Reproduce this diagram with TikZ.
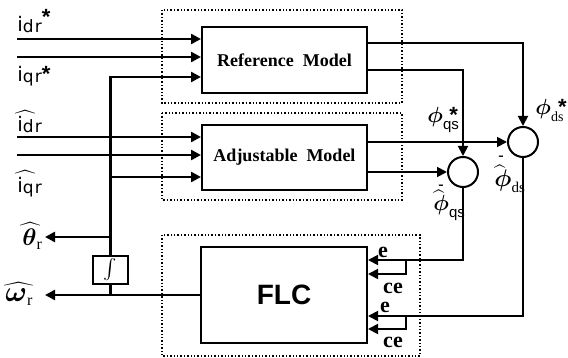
\documentclass[tikz,border=0pt]{standalone}
\usepackage{fontspec}
\setmainfont{Liberation Serif}
\setsansfont{Liberation Sans}
\newfontfamily\lblsf{DejaVu Sans}
\newfontfamily\lblsfw{DejaVu Sans}[LetterSpace=6]
\usepackage{amsmath}
\usepackage{bm}
\usetikzlibrary{calc, arrows.meta, positioning}

% hat laid over a label: shift, height of the base, width of the base
\newcommand{\hatover}[3]{\makebox[0pt][l]{\hspace{#1}\fontsize{10}{10}\selectfont$\widehat{\vphantom{\rule{0pt}{#2}}\hspace{#3}}$}}
\newcommand{\bstar}{{\fontsize{11}{11}\selectfont\sffamily\bfseries *}}
\newcommand{\ilab}[1]{{\fontsize{10}{10}\selectfont\lblsf i}\raisebox{-0.5pt}{\fontsize{8.5}{9}\selectfont\lblsfw #1}}
\newcommand{\ihat}[1]{\hatover{-1pt}{7.4pt}{10.5pt}\ilab{#1}}
\newcommand{\flx}[2]{$\bm\phi$\rlap{\raisebox{-3.2pt}{\fontsize{7.5}{8}\selectfont #1}}#2}
\newcommand{\mdlfont}{\fontsize{9}{10}\selectfont\bfseries}
\newcommand{\flcfont}{\fontsize{14}{15}\selectfont\sffamily\bfseries}
\newcommand{\errfont}{\fontsize{11}{11}\selectfont\bfseries}

\begin{document}
\begin{tikzpicture}[x=0.5pt,y=-0.5pt,
  >={Triangle[length=5pt,width=5pt]},
  blk/.style={draw,line width=1pt,inner sep=0pt},
  frm/.style={densely dotted,line width=0.7pt},
  sig/.style={->,line width=1.2pt},
  flow/.style={->,line width=0.9pt},
  wire/.style={line width=1.2pt},
  sumj/.style={draw,circle,line width=1pt,minimum size=15pt,inner sep=0pt},
  lbl/.style={anchor=base west,inner sep=0pt},
  errlbl/.style={anchor=base,inner sep=0pt,font=\errfont}]
  \useasboundingbox (0,0) rectangle (568,358);

  % dotted frames
  \draw[frm] (162,10) rectangle (402,103);
  \draw[frm] (162,113) rectangle (402,200);
  \draw[frm] (162,235) rectangle (420,356);

  % blocks
  \node[blk,minimum width=82.5pt,minimum height=33pt,font=\mdlfont] (refm) at (284.5,60) {Reference\ \ Model};
  \node[blk,minimum width=82.5pt,minimum height=32.5pt,font=\mdlfont] (adjm) at (284.5,157.5) {Adjustable\ \ Model};
  \node[blk,minimum width=83pt,minimum height=48pt,font=\flcfont] (flc) at (284,295) {FLC};
  \node[blk,line width=0.8pt,minimum width=17.5pt,minimum height=14pt,font=\fontsize{10}{10}\selectfont] (integ) at (110.5,270) {$\int$};
  \node[sumj] (sumq) at (463,172) {};
  \node[sumj] (sumd) at (523,142) {};

  % inputs
  \coordinate (idrs) at (17,39);
  \coordinate (iqrs) at (17,57);
  \coordinate (idrh) at (17,137);
  \coordinate (iqrh) at (17,155);
  \coordinate (refw) at ($(refm.west)+(0,17)$);
  \coordinate (adjw) at ($(adjm.west)+(0,19.5)$);
  \draw[sig] (idrs) -- (idrs -| refm.west);
  \draw[sig] (iqrs) -- (iqrs -| refm.west);
  \draw[sig] (idrh) -- (idrh -| adjm.west);
  \draw[sig] (iqrh) -- (iqrh -| adjm.west);
  \draw[sig] (integ.north) |- (refw);
  \draw[sig] (adjw -| integ.north) -- (adjw);

  % outputs
  \coordinate (thout) at (45,237);
  \coordinate (omout) at (45,295);
  \draw[sig] (thout -| integ.north) -- (thout);
  \draw[sig] (flc.west) -- (omout);
  \draw[wire] (integ.south) -- (integ.south |- flc.west);

  % flux error paths
  \draw[flow] ($(refm.east)+(0,-17)$) -| (sumd);
  \draw[flow] ($(refm.east)+(0,10)$) -| (sumq);
  \draw[flow] (sumd.west -| adjm.east) -- (sumd.west);
  \draw[flow] (sumq.west -| adjm.east) -- (sumq.west);

  \coordinate (eq) at ($(flc.north east)+(0,14)$);
  \coordinate (ceq) at ($(flc.north east)+(0,28)$);
  \coordinate (ed) at ($(flc.north east)+(0,70)$);
  \coordinate (ced) at ($(flc.north east)+(0,83)$);
  \coordinate (brq) at (406,261);
  \coordinate (brd) at (406,317);
  \draw[flow] (sumq) |- (eq);
  \draw[flow] (brq) |- (ceq);
  \draw[flow] (sumd) |- (ed);
  \draw[flow] (brd) |- (ced);

  % labels
  \node[lbl] (lidrs) at (17,32) {\ilab{dr}\raisebox{3.5pt}{\bstar}};
  \node[lbl] (liqrs) at (17,82) {\ilab{qr}\raisebox{0.3pt}{\bstar}};
  \node[lbl] (lidrh) at (17,132) {\ihat{dr}};
  \node[lbl] (liqrh) at (17,192) {\ihat{qr}};
  \node[lbl,font=\fontsize{13}{13}\selectfont] (lth) at (22,245) {\hatover{-1pt}{8pt}{10.5pt}$\bm\theta$\raisebox{-2pt}{\fontsize{8}{8}\selectfont r}};
  \node[lbl,font=\fontsize{15}{15}\selectfont] (lom) at (5,301) {\hatover{-0.5pt}{6.3pt}{14.6pt}$\bm\omega$\raisebox{-2pt}{\fontsize{8}{8}\selectfont r}};

  \node[lbl,font=\fontsize{11}{11}\selectfont] (lqs) at (427,123) {\flx{\sffamily qs}{\hspace{3.2pt}\bstar}};
  \node[lbl,font=\fontsize{10.5}{11}\selectfont] (lds) at (535,115) {\flx{\fontsize{7}{7}\selectfont ds}{\hspace{3.6pt}\bstar}};
  \node[lbl,font=\fontsize{11}{11}\selectfont] (lqsh) at (433,211) {\hatover{0pt}{7.4pt}{5.6pt}\flx{\sffamily qs}{}};
  \node[lbl,font=\fontsize{11.5}{12}\selectfont] (ldsh) at (494,186) {\hatover{0pt}{7.7pt}{5.6pt}\flx{ds}{}};
  \node[inner sep=0pt,font=\fontsize{8}{8}\selectfont\bfseries] (mq) at (441,187) {-};
  \node[inner sep=0pt,font=\fontsize{8}{8}\selectfont\bfseries] (md) at (501,158) {-};

  \node[errlbl] (le1) at (383,257) {e};
  \node[errlbl] (lce1) at (393,293) {ce};
  \node[errlbl] (le2) at (385,312) {e};
  \node[errlbl] (lce2) at (393,347) {ce};
\end{tikzpicture}
\end{document}
